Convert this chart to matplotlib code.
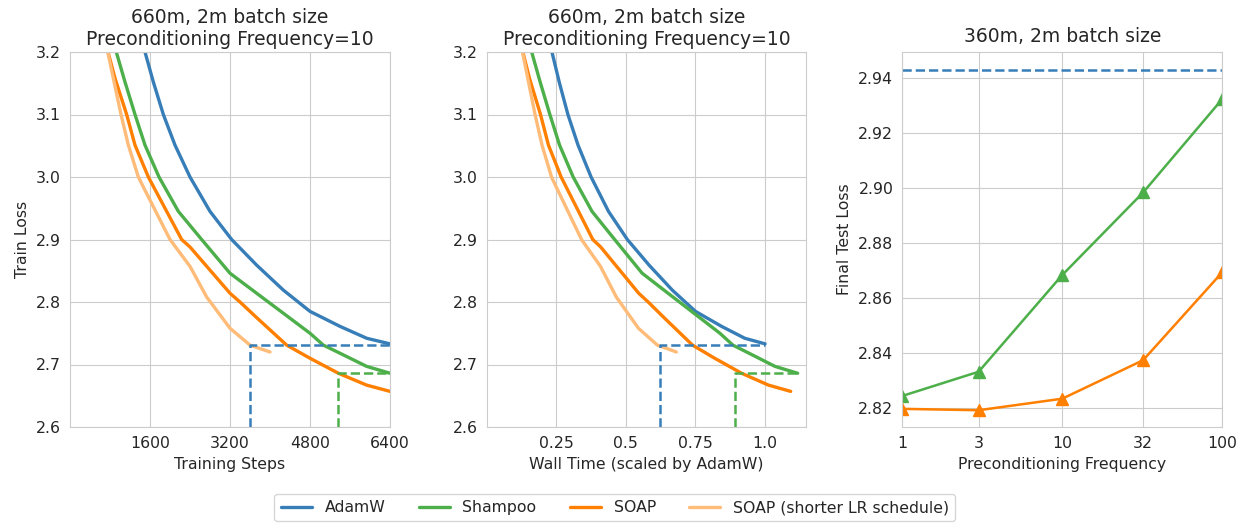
import numpy as np
import matplotlib
matplotlib.use("Agg")
import matplotlib.pyplot as plt
import seaborn as sns

sns.set_style("whitegrid")
plt.rcParams['font.family'] = ['DejaVu Sans']

# colours
c_adamw = "#377eb8"
c_shampoo = "#4daf4a"
c_soap = "#ff7f00"
c_soap_short = "#ffbb78"

# training curves (660m, 2m batch)
steps_adamw = [1500, 1667, 1867, 2100, 2400, 2800, 3233, 3733, 4267, 4800, 5400, 5933, 6400]
loss_adamw = [3.200, 3.152, 3.100, 3.051, 3.000, 2.945, 2.900, 2.859, 2.819, 2.785, 2.761, 2.742, 2.733]

steps_shampoo = [933, 1100, 1300, 1500, 1780, 2167, 2633, 3200, 3733, 4267, 4800, 5067, 5400, 5933, 6400]
loss_shampoo = [3.198, 3.152, 3.100, 3.051, 3.000, 2.945, 2.900, 2.846, 2.814, 2.782, 2.750, 2.731,
                2.718, 2.697, 2.686]

steps_soap = [767, 900, 1133, 1300, 1567, 2233, 2400, 3200, 3400, 3733, 4333, 4800, 5367, 5933, 6400]
loss_soap = [3.198, 3.158, 3.100, 3.051, 3.000, 2.900, 2.888, 2.814, 2.800, 2.775, 2.731, 2.710,
             2.686, 2.667, 2.657]

steps_soap_short = [760, 1020, 1167, 1367, 1467, 2000, 2400, 2733, 3200, 3600, 4000]
loss_soap_short = [3.198, 3.100, 3.051, 3.000, 2.984, 2.900, 2.857, 2.808, 2.758, 2.731, 2.720]

# wall time per step, relative to AdamW
time_factor = {"AdamW": 1.0, "Shampoo": 1.117, "SOAP": 1.092, "SOAP short": 1.09}

# dashed markers
dash_adamw_loss = 2.7307
dash_shampoo_loss = 2.686
dash_adamw_step = 3600
dash_shampoo_step = 5367
dash_adamw_time = 0.622
dash_shampoo_time = 0.893

# right panel (360m, 2m batch)
freqs = [1, 3, 10, 32, 100]
final_shampoo = [2.8245, 2.8333, 2.8685, 2.8985, 2.9325]
final_soap = [2.8198, 2.8193, 2.8235, 2.8375, 2.8695]
final_adamw = 2.9431

fig = plt.figure(figsize=(12.42, 5.23), dpi=100)
W, H = 1242, 523
def box(l, r, t=52, b=427):
    return [l / W, (H - b) / H, (r - l) / W, (b - t) / H]

ax1 = fig.add_axes(box(70, 390))
ax2 = fig.add_axes(box(486.7, 806))
ax3 = fig.add_axes(box(902.3, 1222.3))

lw = 2.4
title = "660m, 2m batch size\nPreconditioning Frequency=10"
tfs = 13.5
fs = 11.3

# panel 1: steps
ax1.plot(steps_adamw, loss_adamw, color=c_adamw, lw=lw, label="AdamW")
ax1.plot(steps_shampoo, loss_shampoo, color=c_shampoo, lw=lw, label="Shampoo")
ax1.plot(steps_soap, loss_soap, color=c_soap, lw=lw, label="SOAP")
ax1.plot(steps_soap_short, loss_soap_short, color=c_soap_short, lw=lw,
         label="SOAP (shorter LR schedule)")
ax1.plot([dash_adamw_step, dash_adamw_step, 6400], [2.6, dash_adamw_loss, dash_adamw_loss],
         color=c_adamw, lw=1.8, ls="--")
ax1.plot([dash_shampoo_step, dash_shampoo_step, 6400], [2.6, dash_shampoo_loss, dash_shampoo_loss],
         color=c_shampoo, lw=1.8, ls="--")
ax1.set_xlim(0, 6400)
ax1.set_xticks([1600, 3200, 4800, 6400])
ax1.set_xlabel("Training Steps", fontsize=fs)
ax1.set_ylabel("Train Loss", fontsize=fs)

# panel 2: wall time
def wt(steps, key):
    return np.array(steps) * time_factor[key] / 6400

ax2.plot(wt(steps_adamw, "AdamW"), loss_adamw, color=c_adamw, lw=lw)
ax2.plot(wt(steps_shampoo, "Shampoo"), loss_shampoo, color=c_shampoo, lw=lw)
ax2.plot(wt(steps_soap, "SOAP"), loss_soap, color=c_soap, lw=lw)
ax2.plot(wt(steps_soap_short, "SOAP short"), loss_soap_short, color=c_soap_short, lw=lw)
ax2.plot([dash_adamw_time, dash_adamw_time, 1.0], [2.6, dash_adamw_loss, dash_adamw_loss],
         color=c_adamw, lw=1.8, ls="--")
ax2.plot([dash_shampoo_time, dash_shampoo_time, time_factor["Shampoo"]],
         [2.6, dash_shampoo_loss, dash_shampoo_loss], color=c_shampoo, lw=1.8, ls="--")
ax2.set_xlim(0, 1.147)
ax2.set_xticks([0.25, 0.5, 0.75, 1.0])
ax2.set_xticklabels(["0.25", "0.5", "0.75", "1.0"])
ax2.set_xlabel("Wall Time (scaled by AdamW)", fontsize=fs)

for ax in (ax1, ax2):
    ax.set_ylim(2.6, 3.2)
    ax.set_yticks([2.6, 2.7, 2.8, 2.9, 3.0, 3.1, 3.2])
    ax.set_title(title, fontsize=tfs, pad=5)

# panel 3
ax3.axhline(final_adamw, color=c_adamw, lw=1.8, ls="--")
ax3.plot(freqs, final_shampoo, color=c_shampoo, lw=1.8, marker="^", ms=8)
ax3.plot(freqs, final_soap, color=c_soap, lw=1.8, marker="^", ms=8)
ax3.set_xscale("log")
ax3.set_xlim(1, 100)
ax3.set_xticks(freqs)
ax3.set_xticklabels([str(f) for f in freqs])
ax3.minorticks_off()
ax3.set_ylim(2.8132, 2.9496)
ax3.set_yticks([2.82, 2.84, 2.86, 2.88, 2.90, 2.92, 2.94])
ax3.set_yticklabels(["%.2f" % v for v in [2.82, 2.84, 2.86, 2.88, 2.90, 2.92, 2.94]])
ax3.set_xlabel("Preconditioning Frequency", fontsize=fs)
ax3.set_ylabel("Final Test Loss", fontsize=fs)
ax3.set_title("360m, 2m batch size", fontsize=tfs, pad=7)

for ax in (ax1, ax2, ax3):
    ax.tick_params(labelsize=fs, pad=3)
    for s in ax.spines.values():
        s.set_edgecolor("#cccccc")

fig.legend(loc="lower center", bbox_to_anchor=(0.495, -0.012), ncol=4, fontsize=fs,
           columnspacing=2.1, handlelength=2.0, frameon=True)

fig.savefig("out.png", dpi=100)
